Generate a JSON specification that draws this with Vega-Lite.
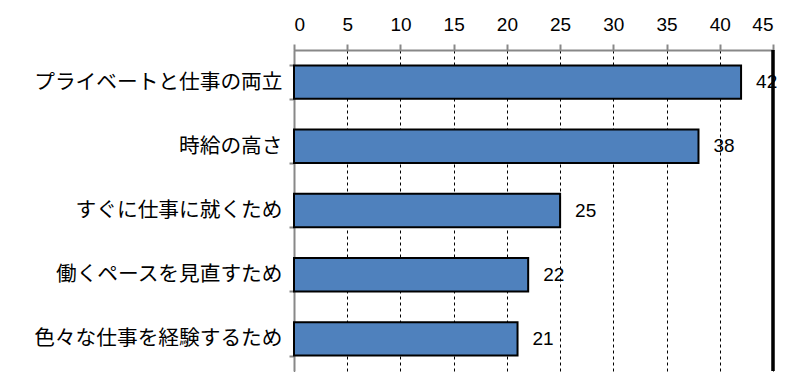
{
  "$schema": "https://vega.github.io/schema/vega-lite/v6.json",
  "width": 479,
  "height": 321,
  "autosize": {"type": "none"},
  "padding": {"left": 294, "top": 50, "right": 32, "bottom": 2},
  "background": "white",
  "config": {
    "view": {"stroke": null},
    "font": "Noto Sans CJK JP"
  },
  "data": {
    "values": [
      {"reason": "プライベートと仕事の両立", "value": 42},
      {"reason": "時給の高さ", "value": 38},
      {"reason": "すぐに仕事に就くため", "value": 25},
      {"reason": "働くペースを見直すため", "value": 22},
      {"reason": "色々な仕事を経験するため", "value": 21}
    ]
  },
  "encoding": {
    "y": {
      "field": "reason",
      "type": "nominal",
      "sort": null,
      "scale": {"paddingInner": 0.48, "paddingOuter": 0.24},
      "axis": {
        "title": null,
        "labelFont": "Noto Sans CJK JP",
        "labelFontSize": 20.7,
        "labelColor": "black",
        "labelPadding": 7,
        "labelLimit": 300,
        "domainColor": "#888888",
        "domainWidth": 2,
        "tickColor": "#888888",
        "tickSize": 5,
        "tickWidth": 2,
        "tickBand": "extent",
        "grid": false
      }
    }
  },
  "layer": [
    {
      "mark": {"type": "bar", "color": "#4F81BD", "stroke": "black", "strokeWidth": 2},
      "encoding": {
        "x": {
          "field": "value",
          "type": "quantitative",
          "scale": {"domain": [0, 45], "nice": false},
          "axis": {
            "orient": "top",
            "title": null,
            "values": [0, 5, 10, 15, 20, 25, 30, 35, 40, 45],
            "labelFont": "Liberation Sans",
            "labelFontSize": 19,
            "labelColor": "black",
            "labelPadding": 10,
            "domainColor": "#888888",
            "domainWidth": 2,
            "tickColor": "#888888",
            "tickSize": 6,
            "tickWidth": 2,
            "grid": true,
            "gridColor": "black",
            "gridDash": [3, 3],
            "gridWidth": 1
          }
        }
      }
    },
    {
      "mark": {"type": "rule", "color": "black", "strokeWidth": 2.5},
      "encoding": {"x": {"datum": 45}, "y": null}
    },
    {
      "mark": {"type": "text", "align": "left", "dx": 15, "fontSize": 19, "font": "Liberation Sans", "color": "black"},
      "encoding": {
        "x": {"field": "value", "type": "quantitative"},
        "text": {"field": "value", "type": "quantitative"}
      }
    }
  ]
}
